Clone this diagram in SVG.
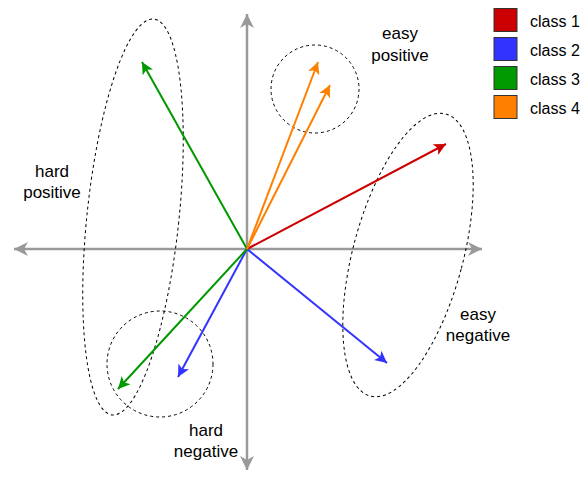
<svg xmlns="http://www.w3.org/2000/svg" width="583" height="482" viewBox="0 0 583 482">
<style>
.t{font-family:"Liberation Sans",Arial,sans-serif;font-size:17px;fill:#000}
.lt{font-family:"Liberation Sans",Arial,sans-serif;font-size:16px;fill:#000}
.ax{stroke:#999;stroke-width:2.5;fill:none}
.v{stroke-width:2;fill:none}
.d{fill:none;stroke:#000;stroke-width:1;stroke-dasharray:3 3}
</style>
<defs>
<marker id="mr" viewBox="-12 -6 14 12" refX="0" refY="0" markerWidth="14" markerHeight="12" markerUnits="userSpaceOnUse" orient="auto"><path d="M-12,-6 L0,0 L-12,6 L-9,0 Z" fill="#CC0000"/></marker>
<marker id="mb" viewBox="-12 -6 14 12" refX="0" refY="0" markerWidth="14" markerHeight="12" markerUnits="userSpaceOnUse" orient="auto"><path d="M-12,-6 L0,0 L-12,6 L-9,0 Z" fill="#3333FF"/></marker>
<marker id="mg" viewBox="-12 -6 14 12" refX="0" refY="0" markerWidth="14" markerHeight="12" markerUnits="userSpaceOnUse" orient="auto"><path d="M-12,-6 L0,0 L-12,6 L-9,0 Z" fill="#009900"/></marker>
<marker id="mo" viewBox="-12 -6 14 12" refX="0" refY="0" markerWidth="14" markerHeight="12" markerUnits="userSpaceOnUse" orient="auto"><path d="M-12,-6 L0,0 L-12,6 L-9,0 Z" fill="#FF8000"/></marker>
<marker id="mx" viewBox="-14 -7 16 14" refX="0" refY="0" markerWidth="16" markerHeight="14" markerUnits="userSpaceOnUse" orient="auto"><path d="M-14,-7 L0,0 L-14,7 L-10,0 Z" fill="#999"/></marker>
</defs>
<g id="axes">
<line class="ax" x1="247" y1="249" x2="247" y2="14" marker-end="url(#mx)"/>
<line class="ax" x1="247" y1="249" x2="247" y2="470" marker-end="url(#mx)"/>
<line class="ax" x1="247" y1="249" x2="14" y2="249" marker-end="url(#mx)"/>
<line class="ax" x1="247" y1="249" x2="482" y2="249" marker-end="url(#mx)"/>
</g>
<g id="groups">
<ellipse id="hard-positive-region" class="d" cx="133" cy="217" rx="46" ry="199" transform="rotate(6 133 217)"/>
<circle id="easy-positive-region" class="d" cx="315" cy="89" r="44"/>
<ellipse id="easy-negative-region" class="d" cx="408" cy="255" rx="55" ry="146" transform="rotate(15 408 255)"/>
<circle id="hard-negative-region" class="d" cx="160" cy="364" r="53"/>
</g>
<g id="connectors">
<line class="v" stroke="#CC0000" x1="247" y1="249" x2="446" y2="144" marker-end="url(#mr)"/>
<line class="v" stroke="#3333FF" x1="247" y1="249" x2="387" y2="363" marker-end="url(#mb)"/>
<line class="v" stroke="#3333FF" x1="247" y1="249" x2="178" y2="377" marker-end="url(#mb)"/>
<line class="v" stroke="#009900" x1="247" y1="249" x2="142" y2="62" marker-end="url(#mg)"/>
<line class="v" stroke="#009900" x1="247" y1="249" x2="118" y2="389" marker-end="url(#mg)"/>
<line class="v" stroke="#FF8000" x1="247" y1="249" x2="318" y2="62" marker-end="url(#mo)"/>
<line class="v" stroke="#FF8000" x1="247" y1="249" x2="330" y2="85" marker-end="url(#mo)"/>
</g>
<g id="labels">
<text class="t" text-anchor="middle" x="400" y="39">easy</text>
<text class="t" text-anchor="middle" x="400" y="61">positive</text>
<text class="t" text-anchor="middle" x="52" y="177">hard</text>
<text class="t" text-anchor="middle" x="52" y="198">positive</text>
<text class="t" text-anchor="middle" x="478" y="320">easy</text>
<text class="t" text-anchor="middle" x="478" y="341">negative</text>
<text class="t" text-anchor="middle" x="206" y="436">hard</text>
<text class="t" text-anchor="middle" x="206" y="457">negative</text>
</g>
<g id="legend">
<rect x="494" y="8.5" width="23" height="23" fill="#CC0000" stroke="#333"/>
<rect x="494" y="37.5" width="23" height="23" fill="#3333FF" stroke="#333"/>
<rect x="494" y="66.5" width="23" height="23" fill="#009900" stroke="#333"/>
<rect x="494" y="95.5" width="23" height="23" fill="#FF8000" stroke="#333"/>
<text class="lt" x="530" y="27">class 1</text>
<text class="lt" x="530" y="56">class 2</text>
<text class="lt" x="530" y="85">class 3</text>
<text class="lt" x="530" y="114">class 4</text>
</g>
</svg>
